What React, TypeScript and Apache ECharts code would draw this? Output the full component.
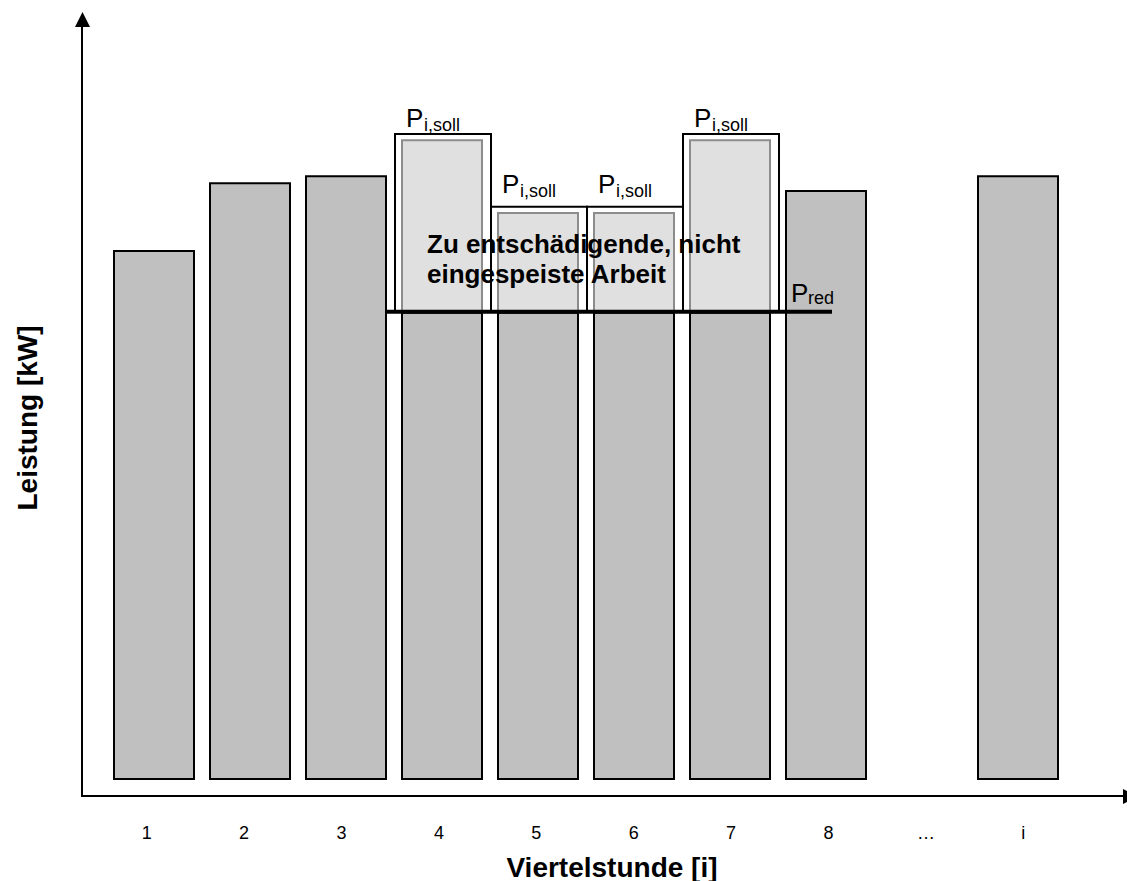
import React, { useEffect, useRef } from "react";
import * as echarts from "echarts";

// ---- data ----
const categories = ["1", "2", "3", "4", "5", "6", "7", "8", "…", "i"];
// available power per quarter hour (P_i,ist, arbitrary units)
const leistung: (number | null)[] = [75.7, 85.4, 86.4, 91.4, 81.0, 81.0, 91.4, 84.3, null, 86.4];
// target power P_i,soll for the curtailed quarter hours
const pSoll: (number | null)[] = [null, null, null, 92.3, 81.9, 81.9, 92.3, null, null, null];
// curtailed quarter hours
const reduziert = [false, false, false, true, true, true, true, false, false, false];
// reduced power level P_red
const pRed = 66.9;
// P_red line spans from category index 2 (right edge) to index 7
const pRedFrom = 2;
const pRedTo = 7;

const FONT = "'Liberation Sans', Arial, Helvetica, sans-serif";

export default function App() {
  const ref = useRef<HTMLDivElement>(null);

  useEffect(() => {
    if (!ref.current) return;
    const chart = echarts.init(ref.current, undefined, { renderer: "svg" });

    const barData = leistung.map((v, i) => (v == null ? "-" : reduziert[i] ? pRed : v));
    const reducedData: number[][] = [];
    leistung.forEach((v, i) => {
      if (reduziert[i] && v != null && pSoll[i] != null) reducedData.push([i, v, pSoll[i] as number]);
    });

    const option: any = {
      animation: false,
      backgroundColor: "#fff",
      textStyle: { fontFamily: FONT },
      grid: [
        { left: 106, width: 960, top: 80, bottom: 101 },
        { left: 98, width: 974, top: 80, bottom: 101 },
      ],
      xAxis: [
        {
          type: "category",
          gridIndex: 0,
          data: categories,
          axisLine: { show: false },
          axisTick: { show: false },
          axisLabel: { show: false },
        },
        {
          type: "category",
          gridIndex: 1,
          data: categories,
          axisLine: { show: false },
          axisTick: { show: false },
          axisLabel: { show: true, fontSize: 18, color: "#000", margin: 44, fontFamily: FONT, interval: 0 },
        },
      ],
      yAxis: [
        { type: "value", gridIndex: 0, min: 0, max: 100, show: false },
        { type: "value", gridIndex: 1, min: 0, max: 100, show: false },
      ],
      series: [
        {
          type: "bar",
          name: "Leistung",
          xAxisIndex: 0,
          yAxisIndex: 0,
          data: barData,
          barWidth: 82,
          z: 2,
          itemStyle: { color: "#c0c0c0", borderColor: "#000", borderWidth: 2 },
        },
        {
          type: "custom",
          name: "Abregelung",
          xAxisIndex: 0,
          yAxisIndex: 0,
          z: 3,
          data: reducedData,
          encode: { x: 0, y: [1, 2] },
          renderItem: (params: any, api: any) => {
            const idx = api.value(0);
            const bw = api.size([1, 0])[0];
            const base = api.coord([idx, pRed]);
            const cx = base[0];
            const yRed = base[1];
            const topL = api.coord([idx, api.value(1)])[1];
            const topS = api.coord([idx, api.value(2)])[1];
            const left = cx - bw / 2 + 1;
            const lift = topS < 160 ? 7 : 14;
            return {
              type: "group",
              children: [
                {
                  type: "rect",
                  shape: { x: cx - 40, y: topL, width: 80, height: yRed - topL },
                  style: { fill: "#e0e0e0", stroke: "#8c8c8c", lineWidth: 2 },
                },
                {
                  type: "rect",
                  shape: { x: left, y: topS, width: bw, height: yRed - topS },
                  style: { fill: "none", stroke: "#000", lineWidth: 2 },
                },
                {
                  type: "text",
                  x: left + 11,
                  y: topS - lift - 9,
                  style: { text: "P", fontSize: 26, fontFamily: FONT, fill: "#000", verticalAlign: "middle", align: "left" },
                },
                {
                  type: "text",
                  x: left + 29,
                  y: topS - lift + 4 - 6,
                  style: { text: "i,soll", fontSize: 18, fontFamily: FONT, fill: "#000", verticalAlign: "middle", align: "left" },
                },
              ],
            };
          },
        },
        {
          type: "custom",
          name: "P_red",
          xAxisIndex: 0,
          yAxisIndex: 0,
          z: 4,
          data: [[pRedFrom, pRed, pRedTo]],
          encode: { x: [0, 2], y: 1 },
          renderItem: (params: any, api: any) => {
            const a = api.coord([api.value(0), api.value(1)]);
            const b = api.coord([api.value(2), api.value(1)]);
            const x1 = a[0] + 41;
            const x2 = b[0] + 6;
            const y = a[1];
            return {
              type: "group",
              children: [
                {
                  type: "line",
                  shape: { x1, y1: y, x2, y2: y },
                  style: { stroke: "#000", lineWidth: 4 },
                },
                {
                  type: "text",
                  x: x2 - 41,
                  y: y - 10 - 9,
                  style: { text: "P", fontSize: 26, fontFamily: FONT, fill: "#000", verticalAlign: "middle", align: "left" },
                },
                {
                  type: "text",
                  x: x2 - 24,
                  y: y - 8 - 6,
                  style: { text: "red", fontSize: 18, fontFamily: FONT, fill: "#000", verticalAlign: "middle", align: "left" },
                },
              ],
            };
          },
        },
      ],
      graphic: [
        // y axis with arrow
        { type: "line", shape: { x1: 82, y1: 797, x2: 82, y2: 24 }, style: { stroke: "#000", lineWidth: 2 }, z: 10 },
        { type: "polygon", shape: { points: [[75, 27], [82.5, 12], [90, 27]] }, style: { fill: "#000" }, z: 10 },
        // x axis with arrow
        { type: "line", shape: { x1: 81, y1: 796, x2: 1125, y2: 796 }, style: { stroke: "#000", lineWidth: 2 }, z: 10 },
        { type: "polygon", shape: { points: [[1123, 789], [1138, 796.5], [1123, 804]] }, style: { fill: "#000" }, z: 10 },
        // axis titles
        {
          type: "text",
          x: 27,
          y: 418,
          rotation: Math.PI / 2,
          style: { text: "Leistung [kW]", fontSize: 28, fontWeight: "bold", fontFamily: FONT, fill: "#000", align: "center", verticalAlign: "middle" },
          z: 10,
        },
        {
          type: "text",
          x: 612,
          y: 867,
          style: { text: "Viertelstunde [i]", fontSize: 28, fontWeight: "bold", fontFamily: FONT, fill: "#000", align: "center", verticalAlign: "middle" },
          z: 10,
        },
        // annotation
        {
          type: "text",
          x: 427,
          y: 229,
          style: {
            text: "Zu entschädigende, nicht\neingespeiste Arbeit",
            fontSize: 26,
            lineHeight: 30,
            fontWeight: "bold",
            fontFamily: FONT,
            fill: "#000",
            align: "left",
            verticalAlign: "top",
          },
          z: 10,
        },
      ],
    };

    chart.setOption(option);
    return () => chart.dispose();
  }, []);

  return <div ref={ref} style={{ width: 1127, height: 881, position: "absolute", left: 0, top: 0 }} />;
}
